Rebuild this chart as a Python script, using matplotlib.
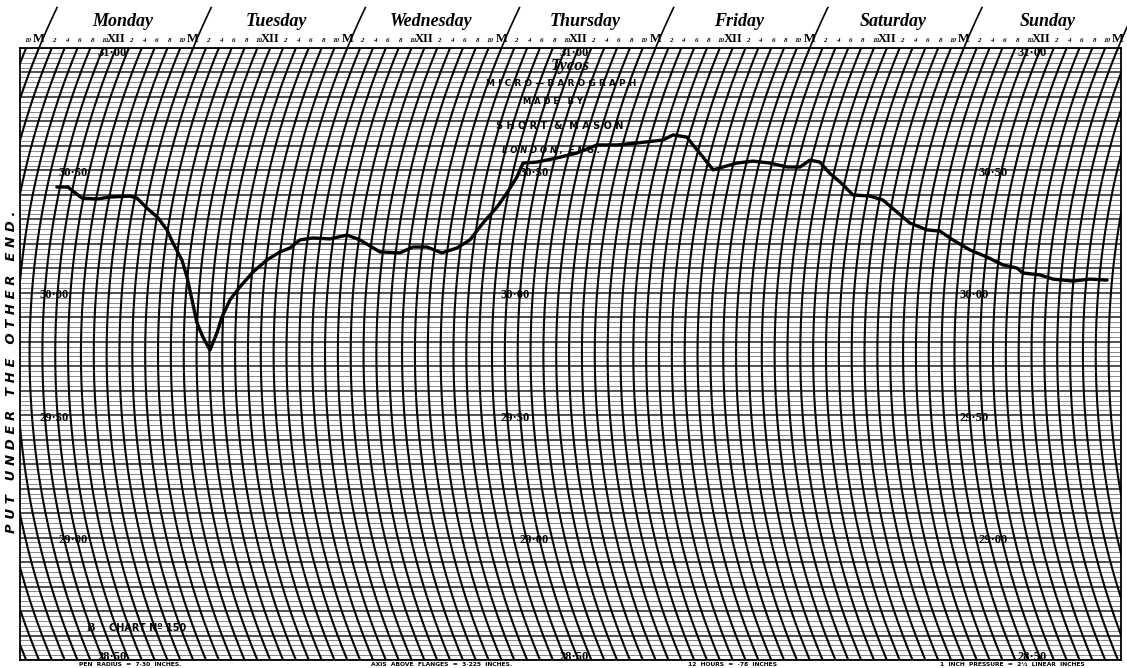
import numpy as np
import matplotlib
matplotlib.use("Agg")
import matplotlib.pyplot as plt

# ---------------- data ----------------
days = ["Monday", "Tuesday", "Wednesday", "Thursday", "Friday", "Saturday", "Sunday"]
hour_labels = ["M", "2", "4", "6", "8", "10", "XII", "2", "4", "6", "8", "10"]
pressure_labels = [31.00, 30.50, 30.00, 29.50, 29.00, 28.50]

# barograph trace: hours since Monday 00:00, pressure in inches
trace_hours = [9.51, 11.23, 13.76, 16.13, 18.09, 21.17, 22.33, 24.19, 26.19, 27.88,
               29.13, 30.86, 31.93, 33.01, 33.97, 34.97, 36.09, 37.13, 37.82, 38.92,
               40.32, 42.13, 44.09, 45.98, 47.44, 48.82, 50.80, 53.48, 56.03, 58.17,
               61.54, 64.67, 66.57, 68.75, 71.21, 73.44, 75.29, 76.91, 78.65, 79.78,
               80.80, 81.22, 83.36, 86.32, 89.23, 92.01, 95.13, 98.15, 102.07, 103.43,
               105.68, 106.96, 109.00, 111.09, 112.53, 114.54, 116.95, 119.68, 122.50, 124.52,
               125.78, 127.42, 129.33, 131.26, 133.71, 136.39, 138.53, 141.07, 143.39, 146.21,
               148.25, 150.49, 153.36, 156.14, 158.77, 161.01, 162.04, 164.71, 166.79, 169.94,
               172.55, 175.22]
trace_pressure = [30.432, 30.432, 30.387, 30.383, 30.391, 30.395, 30.387, 30.346, 30.306, 30.257,
                  30.203, 30.134, 30.065, 29.971, 29.877, 29.819, 29.766, 29.836, 29.901, 29.971,
                  30.024, 30.085, 30.134, 30.167, 30.183, 30.216, 30.224, 30.220, 30.236, 30.216,
                  30.167, 30.163, 30.187, 30.187, 30.163, 30.183, 30.216, 30.285, 30.350, 30.408,
                  30.473, 30.530, 30.534, 30.551, 30.571, 30.604, 30.604, 30.612, 30.624, 30.645,
                  30.636, 30.604, 30.555, 30.502, 30.514, 30.530, 30.538, 30.530, 30.514, 30.514,
                  30.542, 30.534, 30.489, 30.453, 30.400, 30.395, 30.379, 30.330, 30.285, 30.257,
                  30.252, 30.216, 30.175, 30.146, 30.114, 30.101, 30.081, 30.073, 30.056, 30.048,
                  30.056, 30.052]

# ---------------- chart geometry ----------------
W, H = 1127, 668
PX_PER_HOUR = 6.423
PX_PER_INCH = 244.8
PEN_RADIUS_PX = 800.0
P_PIVOT = 29.75
P_MIN, P_MAX = 28.5, 31.0
T_LEFT, T_RIGHT = -2.958, 168.46


def arc_shift(p):
    dy = (np.asarray(p, dtype=float) - P_PIVOT) * PX_PER_INCH
    return (PEN_RADIUS_PX - np.sqrt(PEN_RADIUS_PX ** 2 - dy ** 2)) / PX_PER_HOUR


TOP_SHIFT = arc_shift(P_MAX)


def chart_x(t, p):
    return np.asarray(t, dtype=float) + arc_shift(p) - TOP_SHIFT


def fx(px):
    return px / W


def fy(py):
    return 1 - py / H


fig = plt.figure(figsize=(W / 100, H / 100), dpi=100)
fig.patch.set_facecolor("white")
ax = fig.add_axes([fx(20), 8 / H, 1101 / W, 612 / H])
ax.set_xlim(T_LEFT, T_RIGHT)
ax.set_ylim(P_MIN, P_MAX)
ax.set_xticks([])
ax.set_yticks([])
for s in ax.spines.values():
    s.set_color("black")
    s.set_linewidth(1.3)

# horizontal pressure lines
levels = P_MIN + 0.02 * np.arange(126)
minor = [v for i, v in enumerate(levels) if i % 5 != 0]
major = [v for i, v in enumerate(levels) if i % 5 == 0]
ax.hlines(minor, T_LEFT, T_RIGHT, color="#8a8a8a", lw=0.7, zorder=1)
ax.hlines(major, T_LEFT, T_RIGHT, color="#222222", lw=1.1, zorder=1)

# curved time lines (pen arcs) every 2 hours
pp = np.linspace(P_MIN, P_MAX, 300)
for t in np.arange(-4, 184, 2):
    ax.plot(chart_x(t, pp), pp, color="black", lw=1.5, zorder=2)

# midnight marks above the chart
pp_top = np.linspace(P_MAX, P_MAX + 0.165, 20)
for d in range(8):
    ax.plot(chart_x(24 * d, pp_top), pp_top, color="black", lw=1.2, clip_on=False)

# hour labels
for t in range(-2, 170, 2):
    lab = hour_labels[(t % 24) // 2]
    if lab in ("M", "XII"):
        ax.text(t, P_MAX + 9 / PX_PER_INCH, lab, ha="center", va="center",
                fontsize=9, family="Liberation Serif", fontweight="bold", clip_on=False)
    else:
        ax.text(t + 0.3, P_MAX + 7 / PX_PER_INCH, lab, ha="center", va="center",
                fontsize=5, family="Liberation Serif", fontweight="bold",
                style="italic", clip_on=False)

# day names
for d, name in enumerate(days):
    ax.text(24 * d + 13, P_MAX + 26 / PX_PER_INCH, name, ha="center", va="center",
            fontsize=13, family="Liberation Serif", fontweight="bold", style="italic",
            clip_on=False)

# pressure labels along noon arcs
for tc in (11.4, 83.3, 154.7):
    for p in pressure_labels:
        nudge = -0.022 if p == P_MAX else (0.012 if p == P_MIN else -0.01)
        ax.text(chart_x(tc, p), p + nudge, f"{p:.2f}".replace(".", "·"),
                ha="center", va="center", fontsize=9, family="Liberation Serif",
                fontweight="bold", zorder=4)

# trace
ax.plot(chart_x(trace_hours, trace_pressure), trace_pressure, color="black", lw=2.4,
        solid_capstyle="round", solid_joinstyle="round", zorder=5)

# maker block
fig.text(fx(570), fy(66), "Tycos", ha="center", va="center", fontsize=12,
         family="Liberation Serif", fontweight="bold", style="italic")
fig.text(fx(564), fy(83), "M I C R O — B A R O G R A P H .", ha="center", va="center",
         fontsize=6.5, family="DejaVu Sans", fontweight="bold")
fig.text(fx(553), fy(102), "M A D E   B Y", ha="center", va="center",
         fontsize=6, family="DejaVu Sans", fontweight="bold")
fig.text(fx(560), fy(126), "S H O R T  &  M A S O N", ha="center", va="center",
         fontsize=7, family="DejaVu Sans", fontweight="bold")
fig.text(fx(551), fy(150), "L O N D O N ,  E N G .", ha="center", va="center",
         fontsize=6, family="DejaVu Sans", fontweight="bold", style="italic")

# chart number
fig.text(fx(91), fy(628), "B", ha="center", va="center", fontsize=9,
         family="Liberation Serif", fontweight="bold")
fig.text(fx(148), fy(628), "CHART Nº 150", ha="center", va="center", fontsize=7,
         family="DejaVu Sans", fontweight="bold")

# side instruction
fig.text(fx(12), fy(372), "P U T   U N D E R   T H E   O T H E R   E N D .",
         rotation=90, ha="center", va="center", fontsize=9.5, family="DejaVu Sans",
         fontweight="bold", style="italic")

# bottom notes
notes = [(130, "PEN  RADIUS  =  7·30  INCHES."),
         (442, "AXIS  ABOVE  FLANGES  =  3·225  INCHES."),
         (733, "12  HOURS  =  ·78  INCHES"),
         (1012, "1  INCH  PRESSURE  =  2½  LINEAR  INCHES")]
for px, s in notes:
    fig.text(fx(px), fy(664.5), s, ha="center", va="center", fontsize=4.3,
             family="DejaVu Sans", fontweight="bold")

fig.savefig("out.png", dpi=100, facecolor="white")
